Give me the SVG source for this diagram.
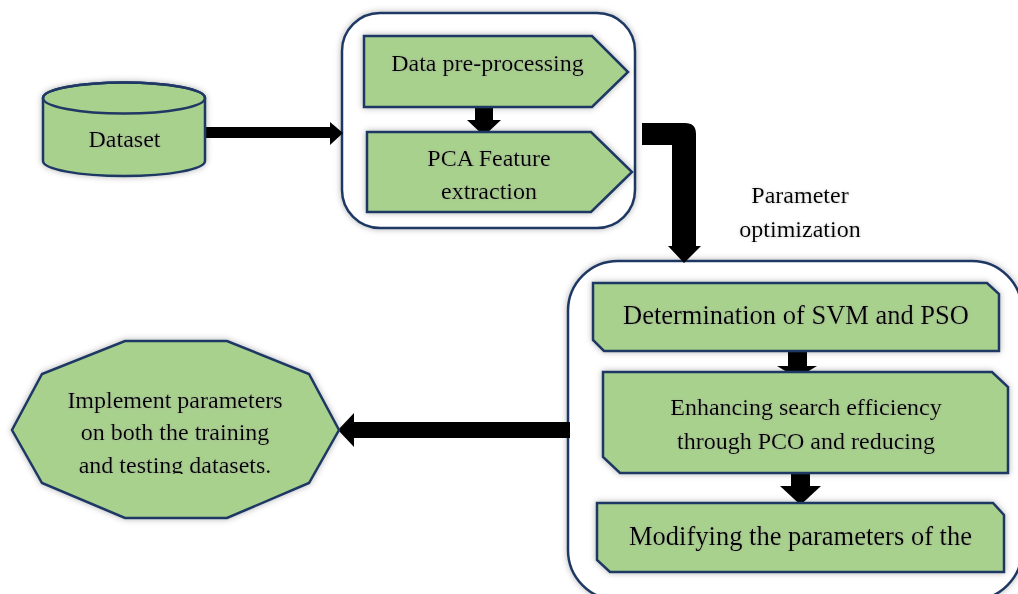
<svg xmlns="http://www.w3.org/2000/svg" width="1018" height="594" viewBox="0 0 1018 594">
<defs>
<filter id="sh" x="-20%" y="-20%" width="140%" height="140%">
<feDropShadow dx="0" dy="0" stdDeviation="3" flood-color="#000" flood-opacity="0.3"/>
</filter>
<filter id="tg" x="-10%" y="-30%" width="120%" height="160%">
<feDropShadow dx="0" dy="0" stdDeviation="1.5" flood-color="#888" flood-opacity="0.45"/>
</filter>
<clipPath id="octclip"><rect x="0" y="330" width="360" height="144"/></clipPath>
<style>
.g{fill:#A9D18E;stroke:#1F3864;stroke-width:2.5;filter:url(#sh)}
.c{fill:#FFFFFF;stroke:#1F3864;stroke-width:2.5;filter:url(#sh)}
.a{fill:#000000}
text{font-family:"Liberation Serif","Times New Roman",serif;fill:#000;text-anchor:middle;filter:url(#tg)}
.t24{font-size:24px}
.t26{font-size:26.5px}
</style>
</defs>
<rect width="1018" height="594" fill="#FFFFFF"/>

<g id="container-preprocess">
<rect class="c" x="342" y="13" width="293" height="215" rx="38"/>
</g>
<g id="container-optimization">
<rect class="c" x="568" y="261" width="454" height="339" rx="50"/>
</g>

<g id="connectors">
<rect class="a" x="205" y="127" width="127" height="11"/>
<polygon class="a" points="330,122 343,133 330,145"/>
<rect class="a" x="475" y="107" width="18" height="14"/>
<polygon class="a" points="467,120 501,120 484,136"/>
<path class="a" d="M642 123 H685 Q696 123 696 134 V246 H701 L684 263 L668 246 H672 V145 H642 Z"/>
<rect class="a" x="788" y="350" width="19" height="17"/>
<polygon class="a" points="777,366 817,366 797,378"/>
<rect class="a" x="791" y="473" width="19" height="14"/>
<polygon class="a" points="780,486 821,486 800.5,505"/>
<rect class="a" x="353" y="422" width="217" height="16"/>
<polygon class="a" points="354,413 338,430 354,447"/>
</g>

<g id="dataset">
<path class="g" d="M43 98 V161 A81 15 0 0 0 205 161 V98 A81 15.5 0 0 0 43 98 Z"/>
<ellipse cx="124" cy="98" rx="81" ry="15.5" fill="none" stroke="#1F3864" stroke-width="2.5"/>
<text class="t24" x="124.5" y="147">Dataset</text>
</g>

<g id="data-preprocessing">
<polygon class="g" points="364,36 592,36 628,72 592,107 364,107"/>
<text class="t24" x="487.5" y="71">Data pre-processing</text>
</g>

<g id="pca-feature-extraction">
<polygon class="g" points="367,132 591,132 632,172 591,212 367,212"/>
<text class="t24" x="489" y="166">PCA Feature</text>
<text class="t24" x="489" y="199">extraction</text>
</g>

<g id="label-parameter-optimization">
<text class="t24" x="800" y="203">Parameter</text>
<text class="t24" x="800" y="237">optimization</text>
</g>

<g id="determination">
<polygon class="g" points="593,283 987,283 999,294 999,351 604,351 593,340"/>
<text class="t26" x="796" y="324">Determination of SVM and PSO</text>
</g>

<g id="enhancing">
<polygon class="g" points="603,372 992,372 1008,387 1008,473 620,473 603,457"/>
<text class="t24" x="806" y="415">Enhancing search efficiency</text>
<text class="t24" x="806" y="449">through PCO and reducing</text>
</g>

<g id="modifying">
<polygon class="g" points="597,503 993,503 1004,515 1004,572 610,572 597,560"/>
<text class="t26" x="800.5" y="545">Modifying the parameters of the</text>
</g>

<g id="implement">
<polygon class="g" points="125,341 227,341 309,374 339,430 309,483 227,518 125,518 42,483 12,430 42,374"/>
<g clip-path="url(#octclip)">
<text class="t24" x="175" y="408">Implement parameters</text>
<text class="t24" x="175" y="440">on both the training</text>
<text class="t24" x="175" y="473">and testing datasets.</text>
</g>
</g>
</svg>
